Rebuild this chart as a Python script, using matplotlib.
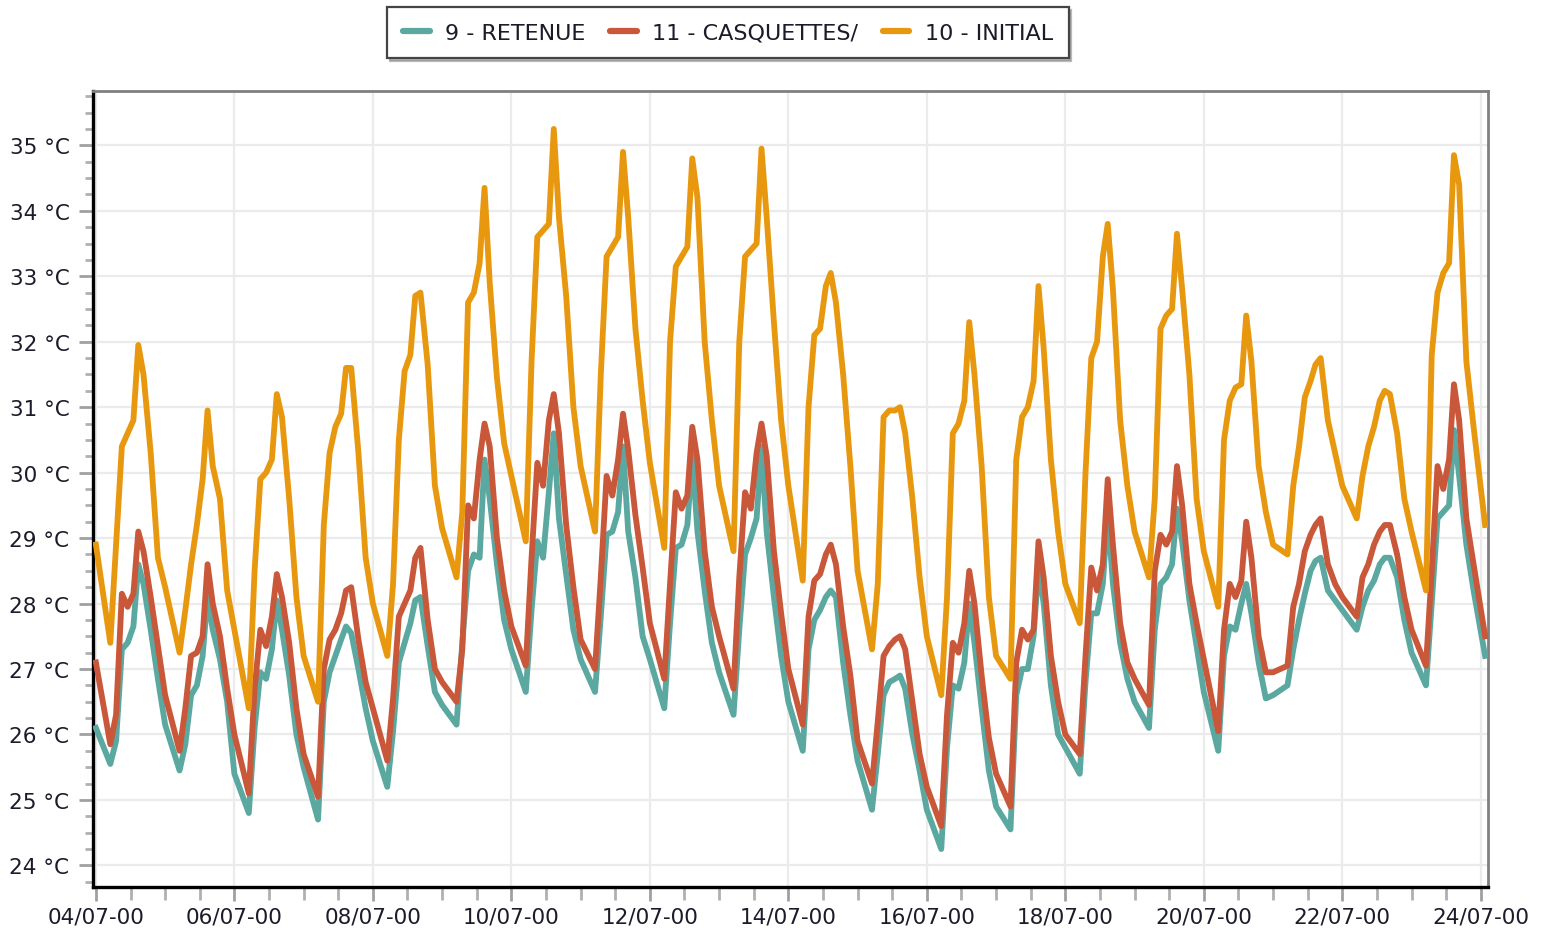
# Hourly temperature comparison, 04/07 - 24/07 (3 variants).

import numpy as np
import pandas as pd
import matplotlib.pyplot as plt
import matplotlib.dates as mdates
from matplotlib.ticker import FuncFormatter, MultipleLocator
from matplotlib.lines import Line2D

# Hours of the day at which each daily row is read
day_hours = [0, 5, 7, 9, 11, 13, 14.7, 16.5, 19, 21.5]

# 10 - INITIAL (one row per day, from 04/07)
initial = [
    [28.9, 27.4, 28.9, 30.4, 30.6, 30.8, 31.95, 31.5, 30.3, 28.7],
    [28.25, 27.25, 27.9, 28.6, 29.2, 29.9, 30.95, 30.1, 29.6, 28.2],
    [27.6, 26.4, 28.5, 29.9, 30.0, 30.2, 31.2, 30.85, 29.6, 28.1],
    [27.2, 26.5, 29.2, 30.3, 30.7, 30.9, 31.6, 31.6, 30.3, 28.7],
    [28.0, 27.2, 28.3, 30.5, 31.55, 31.8, 32.7, 32.75, 31.65, 29.8],
    [29.15, 28.4, 29.4, 32.6, 32.75, 33.2, 34.35, 32.9, 31.45, 30.45],
    [29.95, 28.95, 31.7, 33.6, 33.7, 33.8, 35.25, 33.9, 32.7, 31.0],
    [30.1, 29.1, 31.5, 33.3, 33.45, 33.6, 34.9, 33.9, 32.2, 31.1],
    [30.15, 28.85, 32.0, 33.15, 33.3, 33.45, 34.8, 34.2, 32.0, 30.8],
    [29.8, 28.8, 32.0, 33.3, 33.4, 33.5, 34.95, 33.9, 32.3, 30.8],
    [29.8, 28.35, 31.0, 32.1, 32.2, 32.85, 33.05, 32.6, 31.5, 30.1],
    [28.5, 27.3, 28.3, 30.85, 30.95, 30.95, 31.0, 30.6, 29.6, 28.4],
    [27.5, 26.6, 28.1, 30.6, 30.75, 31.1, 32.3, 31.5, 30.1, 28.1],
    [27.2, 26.85, 30.2, 30.85, 31.0, 31.4, 32.85, 31.9, 30.2, 29.1],
    [28.3, 27.7, 30.0, 31.75, 32.0, 33.3, 33.8, 32.8, 30.8, 29.8],
    [29.1, 28.4, 29.6, 32.2, 32.4, 32.5, 33.65, 32.8, 31.5, 29.6],
    [28.8, 27.95, 30.5, 31.1, 31.3, 31.35, 32.4, 31.7, 30.1, 29.4],
    [28.9, 28.75, 29.8, 30.4, 31.15, 31.4, 31.65, 31.75, 30.8, 30.3],
    [29.8, 29.3, 29.95, 30.4, 30.7, 31.1, 31.25, 31.2, 30.6, 29.6],
    [29.1, 28.2, 31.8, 32.75, 33.05, 33.2, 34.85, 34.4, 31.7, 30.7],
]

# 11 - CASQUETTES/
casquettes = [
    [27.1, 25.85, 26.3, 28.15, 27.95, 28.15, 29.1, 28.8, 28.1, 27.35],
    [26.6, 25.75, 26.4, 27.2, 27.25, 27.5, 28.6, 28.0, 27.5, 26.7],
    [26.0, 25.1, 26.7, 27.6, 27.35, 27.8, 28.45, 28.1, 27.4, 26.4],
    [25.7, 25.05, 27.0, 27.45, 27.6, 27.85, 28.2, 28.25, 27.45, 26.8],
    [26.4, 25.6, 26.55, 27.8, 28.0, 28.2, 28.7, 28.85, 27.75, 27.0],
    [26.8, 26.5, 27.3, 29.5, 29.3, 30.2, 30.75, 30.4, 29.0, 28.2],
    [27.65, 27.05, 28.7, 30.15, 29.8, 30.8, 31.2, 30.6, 29.2, 28.25],
    [27.45, 27.0, 28.4, 29.95, 29.65, 30.2, 30.9, 30.35, 29.35, 28.55],
    [27.7, 26.85, 28.3, 29.7, 29.45, 29.65, 30.7, 30.2, 28.8, 27.95],
    [27.5, 26.7, 28.4, 29.7, 29.45, 30.3, 30.75, 30.25, 28.8, 27.85],
    [27.0, 26.15, 27.8, 28.35, 28.45, 28.75, 28.9, 28.6, 27.65, 26.9],
    [25.9, 25.25, 26.2, 27.2, 27.35, 27.45, 27.5, 27.3, 26.5, 25.7],
    [25.2, 24.6, 26.3, 27.4, 27.25, 27.7, 28.5, 28.0, 26.9, 25.95],
    [25.4, 24.9, 27.1, 27.6, 27.45, 27.6, 28.95, 28.4, 27.2, 26.5],
    [26.0, 25.7, 27.2, 28.55, 28.2, 28.6, 29.9, 28.9, 27.7, 27.1],
    [26.85, 26.45, 28.5, 29.05, 28.9, 29.1, 30.1, 29.5, 28.3, 27.7],
    [27.15, 26.05, 27.6, 28.3, 28.1, 28.35, 29.25, 28.7, 27.5, 26.95],
    [26.95, 27.05, 27.95, 28.3, 28.8, 29.05, 29.2, 29.3, 28.6, 28.3],
    [28.1, 27.8, 28.4, 28.6, 28.9, 29.1, 29.2, 29.2, 28.75, 28.1],
    [27.6, 27.05, 28.5, 30.1, 29.75, 30.2, 31.35, 30.8, 29.3, 28.6],
]

# 9 - RETENUE
retenue = [
    [26.1, 25.55, 25.9, 27.3, 27.4, 27.65, 28.6, 28.3, 27.6, 26.85],
    [26.15, 25.45, 25.85, 26.6, 26.75, 27.2, 28.1, 27.6, 27.15, 26.5],
    [25.4, 24.8, 26.1, 26.95, 26.85, 27.3, 28.05, 27.6, 26.9, 26.0],
    [25.5, 24.7, 26.5, 26.95, 27.2, 27.45, 27.65, 27.55, 27.0, 26.4],
    [25.9, 25.2, 26.05, 27.1, 27.4, 27.7, 28.05, 28.1, 27.35, 26.65],
    [26.45, 26.15, 27.4, 28.5, 28.75, 28.7, 30.2, 29.6, 28.6, 27.75],
    [27.3, 26.65, 27.9, 28.95, 28.7, 29.7, 30.6, 29.3, 28.45, 27.6],
    [27.15, 26.65, 27.8, 29.05, 29.1, 29.4, 30.4, 29.1, 28.4, 27.5],
    [27.15, 26.4, 27.7, 28.85, 28.9, 29.2, 30.25, 29.1, 28.2, 27.4],
    [26.95, 26.3, 27.6, 28.75, 29.0, 29.3, 30.4, 29.1, 28.1, 27.2],
    [26.5, 25.75, 27.3, 27.75, 27.9, 28.1, 28.2, 28.1, 27.1, 26.3],
    [25.6, 24.85, 25.7, 26.6, 26.8, 26.85, 26.9, 26.7, 26.0, 25.45],
    [24.85, 24.25, 25.8, 26.75, 26.7, 27.1, 28.0, 27.4, 26.4, 25.45],
    [24.9, 24.55, 26.6, 27.0, 27.0, 27.5, 28.55, 28.0, 26.75, 26.0],
    [25.8, 25.4, 26.8, 27.85, 27.85, 28.3, 29.4, 28.3, 27.4, 26.85],
    [26.5, 26.1, 27.6, 28.3, 28.4, 28.6, 29.45, 28.95, 28.05, 27.35],
    [26.65, 25.75, 27.2, 27.65, 27.6, 28.0, 28.3, 27.85, 27.1, 26.55],
    [26.6, 26.75, 27.3, 27.75, 28.15, 28.5, 28.65, 28.7, 28.2, 28.05],
    [27.9, 27.6, 27.95, 28.2, 28.35, 28.6, 28.7, 28.7, 28.4, 27.75],
    [27.25, 26.75, 28.0, 29.3, 29.4, 29.5, 30.65, 29.95, 28.9, 28.2],
]

# last reading (24/07, ~01:30)
end_hour = 481.5
end_values = {"initial": 29.2, "casquettes": 27.5, "retenue": 27.2}

labels = ["9 - RETENUE", "11 - CASQUETTES/", "10 - INITIAL"]
colors = ["#5ba8a1", "#c9573a", "#e8980f"]

start = pd.Timestamp("2000-07-04 00:00")


def build(rows, last):
    hours = [d * 24 + h for d in range(len(rows)) for h in day_hours] + [end_hour]
    values = [v for row in rows for v in row] + [last]
    return start + pd.to_timedelta(hours, unit="h"), np.array(values)


series = [
    build(retenue, end_values["retenue"]),
    build(casquettes, end_values["casquettes"]),
    build(initial, end_values["initial"]),
]

plt.rcParams["font.family"] = "DejaVu Sans"
plt.rcParams["font.size"] = 15.5

fig = plt.figure(figsize=(15.45, 9.37), dpi=100)
ax = fig.add_axes([93 / 1545, 1 - 888 / 937, (1488 - 93) / 1545, (888 - 92) / 937])

for (t, v), c in zip(series, colors):
    ax.plot(t, v, color=c, lw=4.2, solid_joinstyle="round", zorder=3)

# Axes ranges
ax.set_xlim(start - pd.Timedelta(hours=1), start + pd.Timedelta(hours=482.5))
ax.set_ylim(23.67, 35.83)

# Ticks
major_days = pd.date_range("2000-07-04", "2000-07-24", freq="2D")
ax.set_xticks(major_days)
ax.xaxis.set_major_formatter(mdates.DateFormatter("%d/%m-%y"))
ax.xaxis.set_minor_locator(mdates.HourLocator(byhour=[0, 12]))
ax.yaxis.set_major_locator(MultipleLocator(1))
ax.yaxis.set_minor_locator(MultipleLocator(0.25))
ax.yaxis.set_major_formatter(FuncFormatter(lambda v, p: f"{v:.0f} °C"))

ax.tick_params(axis="both", which="major", length=10, width=2, color="#a0a0a0",
               labelcolor="#1b1b2a")
ax.tick_params(axis="both", which="minor", length=6, width=2, color="#b0b0b0")
ax.tick_params(axis="x", which="minor", length=9)
ax.tick_params(axis="y", which="major", pad=7)
ax.tick_params(axis="x", which="major", pad=4)

# Grid and frame
ax.grid(which="major", color="#ebebeb", lw=1.6, zorder=0)
ax.set_axisbelow(True)
for side in ["left", "bottom"]:
    ax.spines[side].set_color("black")
    ax.spines[side].set_linewidth(2.4)
for side in ["top", "right"]:
    ax.spines[side].set_color("#808080")
    ax.spines[side].set_linewidth(2)

# Legend above the plot
handles = [Line2D([], [], color=c, lw=4.5, solid_capstyle="round") for c in colors]
leg = fig.legend(handles, labels, loc="upper center", ncol=3,
                 bbox_to_anchor=(728 / 1545, 1 - 8 / 937), borderaxespad=0,
                 frameon=True, fancybox=False, edgecolor="#444444",
                 shadow={"color": "0.55", "alpha": 0.6},
                 handlelength=1.2, handletextpad=0.7, columnspacing=1.1,
                 borderpad=0.7, fontsize=16)
leg.get_frame().set_linewidth(1.6)
for txt in leg.get_texts():
    txt.set_color("#1b1b2a")

fig.savefig("out.png", dpi=100)
